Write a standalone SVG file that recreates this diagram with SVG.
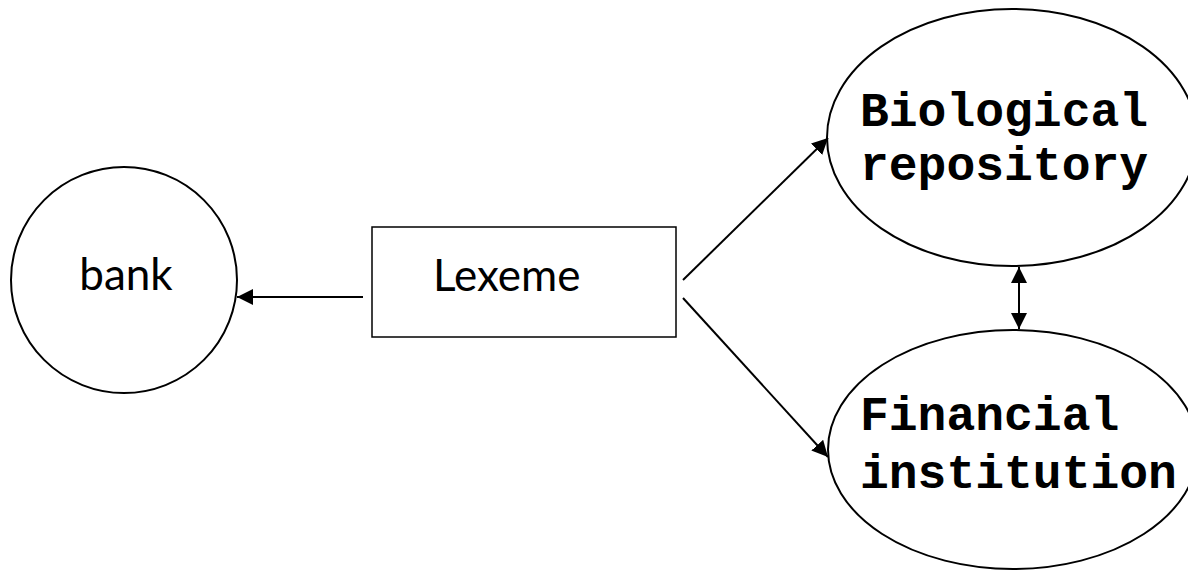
<svg xmlns="http://www.w3.org/2000/svg" width="1188" height="570" viewBox="0 0 1188 570">
  <style>
    .shape { fill: #ffffff; stroke: #000000; stroke-width: 2; }
    .box { fill: #ffffff; stroke: #000000; stroke-width: 1.5; }
    .sans { font-family: Lato, "Liberation Sans", sans-serif; font-size: 44px; fill: #000000; }
    .mono { font-family: "Liberation Mono", "DejaVu Sans Mono", monospace; font-weight: bold; font-size: 48px; fill: #000000; }
    .edge { fill: none; stroke: #000000; stroke-width: 2; }
  </style>
  <defs>
    <marker id="arrow" viewBox="0 0 16 16" refX="16" refY="8" markerWidth="16" markerHeight="16" markerUnits="userSpaceOnUse" orient="auto-start-reverse">
      <path d="M0,0 L16,8 L0,16 Z" fill="#000000"/>
    </marker>
  </defs>

  <g id="bank">
    <circle class="shape" cx="124" cy="280" r="113"/>
    <text class="sans" x="126" y="290" text-anchor="middle">bank</text>
  </g>

  <g id="lexeme">
    <rect class="box" x="372" y="227" width="304" height="110"/>
    <text class="sans" x="433" y="291">Lexeme</text>
  </g>

  <g id="biological-repository">
    <ellipse class="shape" cx="1012" cy="137.5" rx="185" ry="128.5"/>
    <text class="mono" x="860" y="126">Biological</text>
    <text class="mono" x="860" y="180">repository</text>
  </g>

  <g id="financial-institution">
    <ellipse class="shape" cx="1013" cy="449.5" rx="185" ry="119.5"/>
    <text class="mono" x="860" y="430">Financial</text>
    <text class="mono" x="860" y="488">institution</text>
  </g>

  <g id="connectors">
    <line class="edge" x1="363" y1="297" x2="237" y2="297" marker-end="url(#arrow)"/>
    <line class="edge" x1="683" y1="280" x2="828" y2="138" marker-end="url(#arrow)"/>
    <line class="edge" x1="683" y1="298" x2="828" y2="457" marker-end="url(#arrow)"/>
    <line class="edge" x1="1019" y1="267" x2="1019" y2="329" marker-start="url(#arrow)" marker-end="url(#arrow)"/>
  </g>
</svg>
